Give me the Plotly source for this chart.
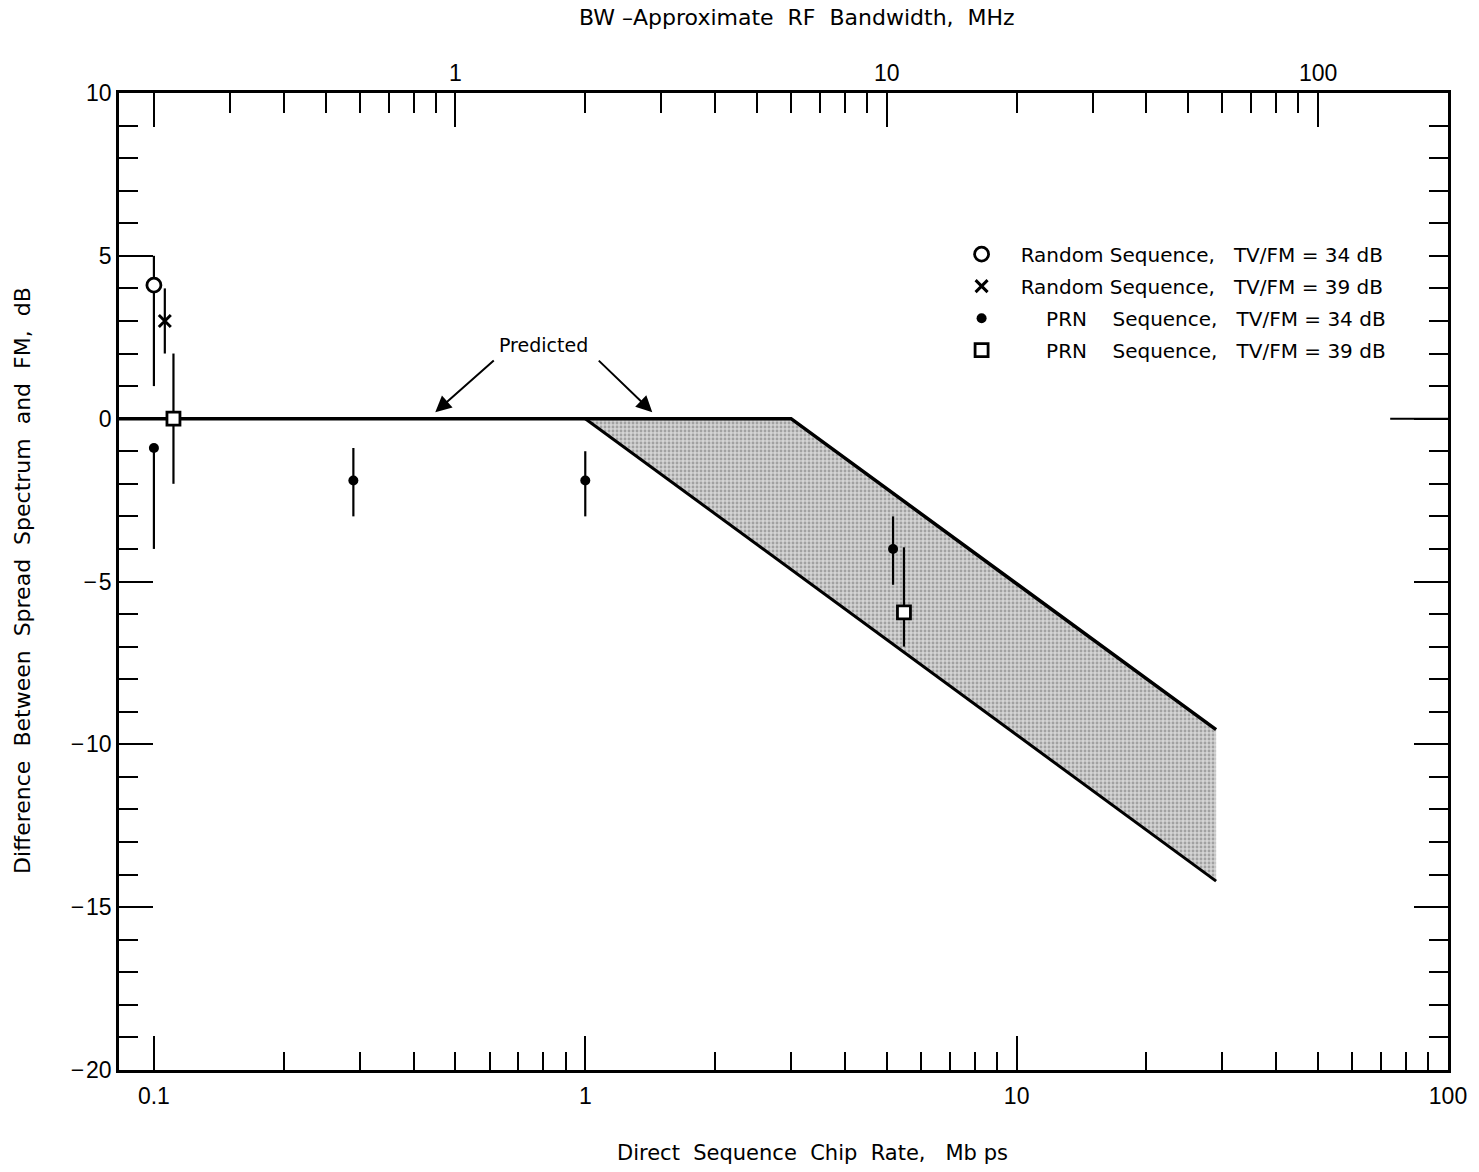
import plotly.graph_objects as go
import math

# ---------------- data ----------------
# Random sequence, TV/FM = 34 dB
rand34_x = [0.1]
rand34_y = [4.1]
rand34_hi = [5.0]
rand34_lo = [1.0]

# Random sequence, TV/FM = 39 dB
rand39_x = [0.106]
rand39_y = [3.0]
rand39_hi = [4.0]
rand39_lo = [2.0]

# PRN sequence, TV/FM = 34 dB
prn34_x = [0.1, 0.29, 1.0, 5.17]
prn34_y = [-0.9, -1.9, -1.9, -4.0]
prn34_hi = [-0.9, -0.9, -1.0, -3.0]
prn34_lo = [-4.0, -3.0, -3.0, -5.1]

# PRN sequence, TV/FM = 39 dB
prn39_x = [0.111, 5.48]
prn39_y = [0.0, -5.95]
prn39_hi = [2.0, -3.95]
prn39_lo = [-2.0, -7.0]

# Predicted band
pred_upper_x = [0.083, 3.0, 29.0]
pred_upper_y = [0.0, 0.0, -9.55]
pred_lower_x = [1.0, 29.0]
pred_lower_y = [0.0, -14.2]

# axes
x_range = [0.083, 100.0]
y_range = [-20, 10]
x_major = [0.1, 1, 10, 100]
x_major_text = ["0.1", "1", "10", "100"]
x_minor = [0.2, 0.3, 0.4, 0.5, 0.6, 0.7, 0.8, 0.9, 2, 3, 4, 5, 6, 7, 8, 9,
           20, 30, 40, 50, 60, 70, 80, 90]
bw_major = [0.2, 1, 10, 100]
bw_major_text = ["", "1", "10", "100"]
bw_minor = [0.3, 0.4, 0.5, 0.6, 0.7, 0.8, 0.9, 2, 3, 4, 5, 6, 7, 8, 9,
            20, 30, 40, 50, 60, 70, 80, 90]
y_major = [-20, -15, -10, -5, 0, 5, 10]
y_major_text = ["\u2212\u200a20", "\u2212\u200a15", "\u2212\u200a10", "\u2212\u200a5", "0", "5", "10"]
y_minor = [v for v in range(-20, 11) if v % 5 != 0]
y2_major = [-15, -10, -5, 0]
y2_minor = [v for v in range(-20, 11) if v not in y2_major]

NB = "\u00a0"
tail = "Sequence," + NB * 3 + "TV/FM" + NB + "=" + NB
legend_names = [
    NB * 3 + "Random" + NB + tail + "34" + NB + "dB",
    NB * 3 + "Random" + NB + tail + "39" + NB + "dB",
    NB * 7 + "PRN" + NB * 4 + tail + "34" + NB + "dB",
    NB * 7 + "PRN" + NB * 4 + tail + "39" + NB + "dB",
]

BLACK = "black"
FONT = "DejaVu Sans, Verdana, sans-serif"
NARROW = "Liberation Sans Narrow, Liberation Sans, Arial Narrow, sans-serif"


def errs(y, hi, lo):
    return [h - v for v, h in zip(y, hi)], [v - l for v, l in zip(y, lo)]


fig = go.Figure()

# shaded predicted band
band_x = [pred_lower_x[0], pred_upper_x[1], pred_upper_x[2], pred_lower_x[1], pred_lower_x[0]]
band_y = [pred_lower_y[0], pred_upper_y[1], pred_upper_y[2], pred_lower_y[1], pred_lower_y[0]]
fig.add_trace(go.Scatter(
    x=band_x, y=band_y, mode="none", fill="toself",
    fillcolor="#bdbdbd",
    fillpattern=dict(shape=".", fgcolor="#6e6e6e", bgcolor="#d4d4d4", size=4, solidity=0.4),
    showlegend=False, hoverinfo="skip"))

fig.add_trace(go.Scatter(x=pred_upper_x, y=pred_upper_y, mode="lines",
                         line=dict(color=BLACK, width=3.5), showlegend=False, hoverinfo="skip"))
fig.add_trace(go.Scatter(x=pred_lower_x, y=pred_lower_y, mode="lines",
                         line=dict(color=BLACK, width=3), showlegend=False, hoverinfo="skip"))

series = [
    (rand34_x, rand34_y, rand34_hi, rand34_lo, dict(symbol="circle", size=14, color="white",
                                                   line=dict(color=BLACK, width=2.8))),
    (rand39_x, rand39_y, rand39_hi, rand39_lo, dict(symbol="x-thin", size=12, color=BLACK,
                                                   line=dict(color=BLACK, width=3))),
    (prn34_x, prn34_y, prn34_hi, prn34_lo, dict(symbol="circle", size=10, color=BLACK,
                                               line=dict(color=BLACK, width=0))),
    (prn39_x, prn39_y, prn39_hi, prn39_lo, dict(symbol="square", size=13, color="white",
                                               line=dict(color=BLACK, width=2.8))),
]
for (xs, ys, hi, lo, mk), name in zip(series, legend_names):
    plus, minus = errs(ys, hi, lo)
    fig.add_trace(go.Scatter(
        x=xs, y=ys, mode="markers", marker=mk, name=name, showlegend=False,
        error_y=dict(type="data", symmetric=False, array=plus, arrayminus=minus,
                     color=BLACK, thickness=2.2, width=0)))

# legend-only entries
for i, ((xs, ys, hi, lo, mk), name) in enumerate(zip(series, legend_names)):
    fig.add_trace(go.Scatter(x=[None], y=[None], mode="markers", marker=mk, name=name,
                             legendgroup=f"g{i}", showlegend=True))

# dummy trace for top/right axes
fig.add_trace(go.Scatter(x=[1], y=[0], xaxis="x2", yaxis="y2", mode="markers",
                         marker=dict(opacity=0), showlegend=False, hoverinfo="skip"))

tickfont = dict(family=NARROW, size=23, color=BLACK)

fig.update_layout(
    width=1479, height=1172,
    margin=dict(l=119, r=24, t=93, b=102),
    paper_bgcolor="white", plot_bgcolor="white",
    showlegend=True,
    legend=dict(x=0.634, xanchor="left", y=0.855, yanchor="top",
                bgcolor="rgba(0,0,0,0)", borderwidth=0,
                font=dict(family=FONT, size=20, color=BLACK),
                traceorder="grouped", tracegroupgap=3, itemwidth=30),
    xaxis=dict(type="log", range=[math.log10(x_range[0]), math.log10(x_range[1])],
               showgrid=False, zeroline=False, showline=True, linecolor=BLACK, linewidth=2.5,
               ticks="inside", tickmode="array", tickvals=x_major, ticktext=x_major_text,
               ticklen=34, tickwidth=2, tickcolor=BLACK, tickfont=tickfont,
               ticklabelstandoff=4,
               minor=dict(tickmode="array", tickvals=x_minor, ticks="inside", ticklen=18,
                          tickwidth=2, tickcolor=BLACK, showgrid=False)),
    xaxis2=dict(type="log", overlaying="x", side="top", anchor="y",
                range=[math.log10(2 * x_range[0]), math.log10(2 * x_range[1])],
                showgrid=False, zeroline=False, showline=True, linecolor=BLACK, linewidth=2.5,
                ticks="inside", tickmode="array", tickvals=bw_major, ticktext=bw_major_text,
                ticklen=34, tickwidth=2, tickcolor=BLACK, tickfont=tickfont,
                minor=dict(tickmode="array", tickvals=bw_minor, ticks="inside", ticklen=20,
                           tickwidth=2, tickcolor=BLACK, showgrid=False)),
    yaxis=dict(range=y_range, showgrid=False, zeroline=False, showline=True,
               linecolor=BLACK, linewidth=2.5,
               ticks="inside", tickmode="array", tickvals=y_major, ticktext=y_major_text,
               ticklen=34, tickwidth=2, tickcolor=BLACK, tickfont=tickfont,
               minor=dict(tickmode="array", tickvals=y_minor, ticks="inside", ticklen=19,
                          tickwidth=2, tickcolor=BLACK, showgrid=False)),
    yaxis2=dict(range=y_range, overlaying="y", side="right", anchor="x",
                showgrid=False, zeroline=False, showline=True, linecolor=BLACK, linewidth=2.5,
                showticklabels=False,
                ticks="inside", tickmode="array", tickvals=y2_major,
                ticklen=34, tickwidth=2, tickcolor=BLACK,
                minor=dict(tickmode="array", tickvals=y2_minor, ticks="inside", ticklen=19,
                           tickwidth=2, tickcolor=BLACK, showgrid=False)),
)

# long zero tick on right
fig.add_shape(type="line", xref="paper", yref="y", x0=0.9565, x1=1.0, y0=0, y1=0,
              line=dict(color=BLACK, width=2))

# Predicted label and arrows
fig.add_annotation(x=math.log10(0.80), y=2.25, xref="x", yref="y", text="Predicted",
                   showarrow=False, font=dict(family=FONT, size=19, color=BLACK))
fig.add_annotation(x=math.log10(0.449), y=0.2, xref="x", yref="y", text="",
                   showarrow=True, ax=60, ay=-53, arrowhead=2, arrowsize=1.6,
                   arrowwidth=2, arrowcolor=BLACK)
fig.add_annotation(x=math.log10(1.43), y=0.2, xref="x", yref="y", text="",
                   showarrow=True, ax=-55, ay=-53, arrowhead=2, arrowsize=1.6,
                   arrowwidth=2, arrowcolor=BLACK)

# axis titles
fig.add_annotation(x=0.522, y=-0.085, xref="paper", yref="paper", yanchor="middle",
                   text="Direct" + NB * 2 + "Sequence" + NB * 2 + "Chip" + NB * 2 + "Rate," + NB * 3 + "Mb" + NB + "ps",
                   showarrow=False, font=dict(family=FONT, size=21, color=BLACK))
fig.add_annotation(x=0.51, y=1.077, xref="paper", yref="paper", yanchor="middle",
                   text="BW" + NB + "\u2013Approximate" + NB * 2 + "RF" + NB * 2 + "Bandwidth," + NB * 2 + "MHz",
                   showarrow=False, font=dict(family=FONT, size=22, color=BLACK))
fig.add_annotation(x=-0.073, y=0.5015, xref="paper", yref="paper", xanchor="center",
                   yanchor="middle", textangle=-90,
                   text="Difference" + NB * 2 + "Between" + NB * 2 + "Spread" + NB * 2 + "Spectrum" + NB * 2 + "and" + NB * 2 + "FM," + NB * 2 + "dB",
                   showarrow=False, font=dict(family=FONT, size=22, color=BLACK))

fig.write_html("out.html")
